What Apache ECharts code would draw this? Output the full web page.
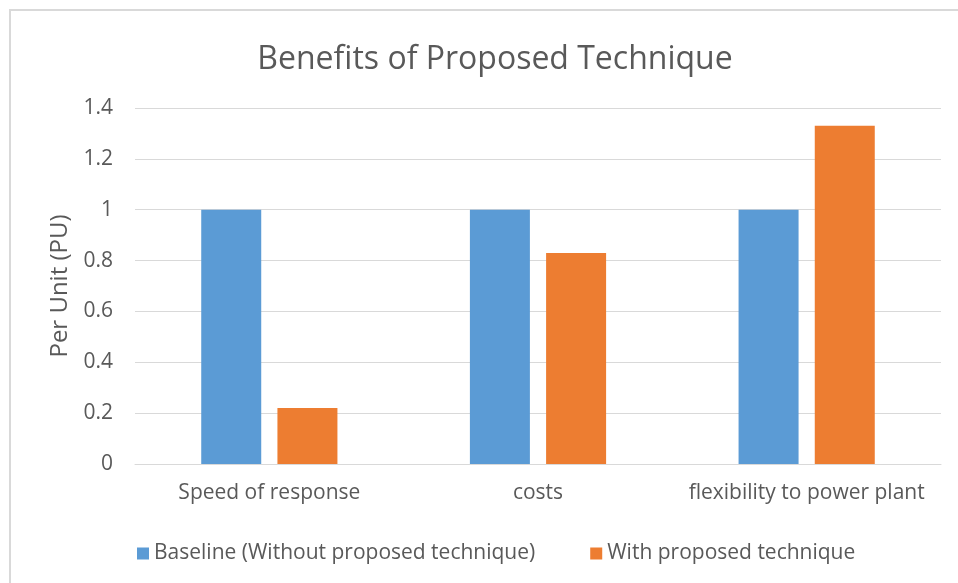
<!DOCTYPE html>
<html>
<head>
<meta charset="utf-8">
<script src="https://cdn.jsdelivr.net/npm/echarts@6/dist/echarts.min.js"></script>
<style>
  html, body { margin: 0; padding: 0; background: #fff; }
  #chart { width: 958px; height: 583px; }
</style>
</head>
<body>
<div id="chart"></div>
<script>
// Chart data
const categories = ['Speed of response', 'costs', 'flexibility to power plant'];
const baselineValues = [1, 1, 1];
const proposedValues = [0.22, 0.83, 1.33];
const seriesNames = ['Baseline (Without proposed technique)', 'With proposed technique'];
const yTicks = { min: 0, max: 1.4, interval: 0.2 };

const FONT = '"Open Sans", "Noto Sans", sans-serif';
const TEXT = '#595959';

const chart = echarts.init(document.getElementById('chart'), null, { renderer: 'canvas' });

chart.setOption({
  backgroundColor: '#ffffff',
  animation: false,
  title: {
    text: 'Benefits of Proposed Technique',
    left: 490,
    top: 39,
    textAlign: 'center',
    textStyle: { fontFamily: FONT, fontSize: 32, fontWeight: 'normal', color: TEXT }
  },
  graphic: [{
    type: 'rect',
    shape: { x: 10, y: 10, width: 980, height: 620 },
    style: { fill: 'none', stroke: '#d9d9d9', lineWidth: 2 },
    silent: true
  }],
  legend: {
    left: 132,
    top: 538,
    itemWidth: 12,
    itemHeight: 12,
    itemGap: 55,
    icon: 'rect',
    textStyle: { fontFamily: FONT, fontSize: 21, color: TEXT },
    data: seriesNames
  },
  grid: { left: 135, right: 17, top: 108, bottom: 119, containLabel: false },
  xAxis: {
    type: 'category',
    data: categories,
    axisLine: { show: true, lineStyle: { color: '#d9d9d9', width: 1 } },
    axisTick: { show: false },
    axisLabel: { interval: 0, fontFamily: FONT, fontSize: 21, color: TEXT, margin: 19 }
  },
  yAxis: {
    type: 'value',
    min: yTicks.min,
    max: yTicks.max,
    interval: yTicks.interval,
    name: 'Per Unit (PU)',
    nameLocation: 'middle',
    nameGap: 59,
    nameTextStyle: { fontFamily: FONT, fontSize: 24, color: TEXT },
    axisLine: { show: false },
    axisTick: { show: false },
    splitLine: { lineStyle: { color: '#d9d9d9', width: 1 } },
    axisLabel: {
      fontFamily: FONT, fontSize: 21, color: TEXT, margin: 22,
      formatter: v => String(Math.round(v * 10) / 10)
    }
  },
  series: [
    {
      name: seriesNames[0],
      type: 'bar',
      data: baselineValues,
      barWidth: 60,
      barGap: '27%',
      itemStyle: { color: '#5b9bd5' }
    },
    {
      name: seriesNames[1],
      type: 'bar',
      data: proposedValues,
      barWidth: 60,
      barGap: '27%',
      itemStyle: { color: '#ed7d31' }
    }
  ]
});
</script>
</body>
</html>
